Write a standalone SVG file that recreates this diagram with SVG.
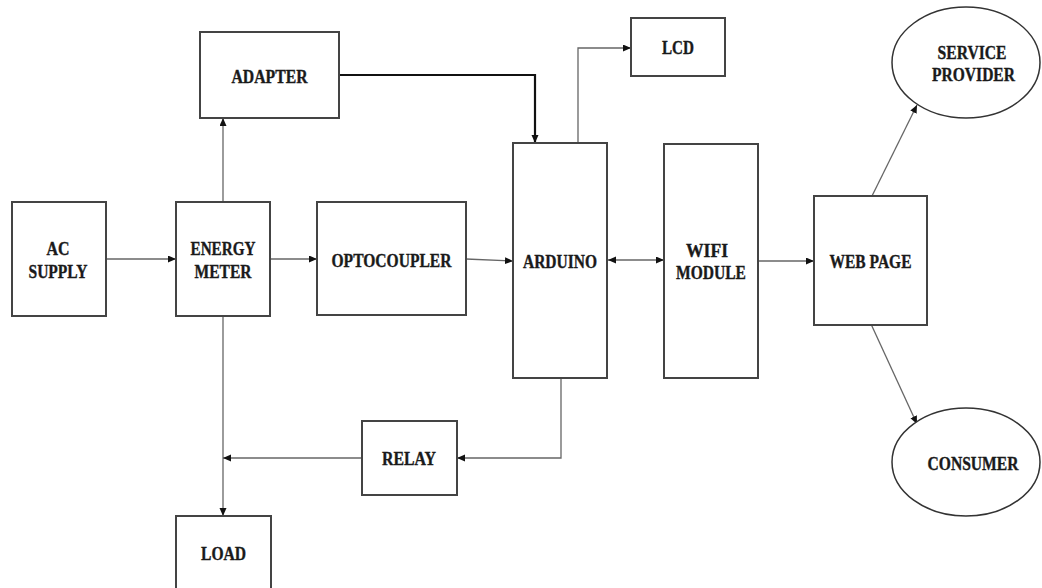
<svg xmlns="http://www.w3.org/2000/svg" width="1042" height="588" viewBox="0 0 1042 588">
<style>
.box{fill:#fff;stroke:#444;stroke-width:2}
.ell{fill:#fff;stroke:#333;stroke-width:1.5}
.t{font-family:"Liberation Serif","Times New Roman",serif;font-weight:bold;font-size:18px;fill:#1a1a1a;stroke:#1a1a1a;stroke-width:0.35;text-anchor:middle}
.ln{fill:none;stroke:#666;stroke-width:1.3}
.lnb{fill:none;stroke:#111;stroke-width:2.2}
</style>
<defs>
<marker id="ah" markerUnits="userSpaceOnUse" markerWidth="9" markerHeight="8" refX="8" refY="3.5" orient="auto-start-reverse">
<path d="M0,0 L8,3.5 L0,7 z" fill="#111"/>
</marker>
</defs>
<rect width="1042" height="588" fill="#fff"/>
<g id="connectors">
<line class="ln" x1="106" y1="259" x2="176" y2="259" marker-end="url(#ah)"/>
<line class="ln" x1="270" y1="259" x2="317" y2="259" marker-end="url(#ah)"/>
<line class="ln" x1="223" y1="202" x2="223" y2="118" marker-end="url(#ah)"/>
<polyline class="lnb" points="339,75 535,75 535,143" marker-end="url(#ah)"/>
<polyline class="ln" points="578,143 578,48 631,48" marker-end="url(#ah)"/>
<line class="ln" x1="466" y1="259" x2="513" y2="261" marker-end="url(#ah)"/>
<line class="ln" x1="608" y1="260" x2="664" y2="260" marker-start="url(#ah)" marker-end="url(#ah)"/>
<line class="ln" x1="758" y1="261" x2="814" y2="261" marker-end="url(#ah)"/>
<line class="ln" x1="872" y1="196" x2="917" y2="105" marker-end="url(#ah)"/>
<line class="ln" x1="871" y1="324" x2="917" y2="424" marker-end="url(#ah)"/>
<line class="ln" x1="223" y1="316" x2="223" y2="516" marker-end="url(#ah)"/>
<polyline class="ln" points="561,378 561,458 457,458" marker-end="url(#ah)"/>
<line class="ln" x1="362" y1="458" x2="223" y2="458" marker-end="url(#ah)"/>
</g>
<g id="ac-supply">
<rect class="box" x="12" y="202" width="94" height="114"/>
<text class="t" x="58" y="255" textLength="23" lengthAdjust="spacingAndGlyphs">AC</text>
<text class="t" x="58" y="278" textLength="59" lengthAdjust="spacingAndGlyphs">SUPPLY</text>
</g>
<g id="energy-meter">
<rect class="box" x="176" y="202" width="94" height="114"/>
<text class="t" x="223" y="255" textLength="65" lengthAdjust="spacingAndGlyphs">ENERGY</text>
<text class="t" x="223" y="278" textLength="57" lengthAdjust="spacingAndGlyphs">METER</text>
</g>
<g id="adapter">
<rect class="box" x="200" y="32" width="139" height="86"/>
<text class="t" x="269.5" y="83" textLength="76" lengthAdjust="spacingAndGlyphs">ADAPTER</text>
</g>
<g id="optocoupler">
<rect class="box" x="317" y="202" width="149" height="113"/>
<text class="t" x="391.5" y="267" textLength="120" lengthAdjust="spacingAndGlyphs">OPTOCOUPLER</text>
</g>
<g id="arduino">
<rect class="box" x="513" y="143" width="94" height="235"/>
<text class="t" x="560" y="268" textLength="74" lengthAdjust="spacingAndGlyphs">ARDUINO</text>
</g>
<g id="lcd">
<rect class="box" x="631" y="18" width="94" height="58"/>
<text class="t" x="678" y="54" textLength="32" lengthAdjust="spacingAndGlyphs">LCD</text>
</g>
<g id="wifi-module">
<rect class="box" x="664" y="144" width="94" height="234"/>
<text class="t" x="707" y="257" textLength="42" lengthAdjust="spacingAndGlyphs">WIFI</text>
<text class="t" x="711" y="279" textLength="70" lengthAdjust="spacingAndGlyphs">MODULE</text>
</g>
<g id="web-page">
<rect class="box" x="814" y="196" width="113" height="129"/>
<text class="t" x="870.5" y="268" textLength="82" lengthAdjust="spacingAndGlyphs">WEB PAGE</text>
</g>
<g id="service-provider">
<ellipse class="ell" cx="966" cy="62.5" rx="74" ry="55.5"/>
<text class="t" x="972" y="59" textLength="69" lengthAdjust="spacingAndGlyphs">SERVICE</text>
<text class="t" x="973.5" y="81" textLength="83" lengthAdjust="spacingAndGlyphs">PROVIDER</text>
</g>
<g id="consumer">
<ellipse class="ell" cx="966" cy="462" rx="74" ry="54"/>
<text class="t" x="973" y="470" textLength="91" lengthAdjust="spacingAndGlyphs">CONSUMER</text>
</g>
<g id="relay">
<rect class="box" x="362" y="421" width="95" height="74"/>
<text class="t" x="409" y="465" textLength="54" lengthAdjust="spacingAndGlyphs">RELAY</text>
</g>
<g id="load">
<rect class="box" x="176" y="516" width="95" height="90"/>
<text class="t" x="223.5" y="560" textLength="45" lengthAdjust="spacingAndGlyphs">LOAD</text>
</g>
</svg>
